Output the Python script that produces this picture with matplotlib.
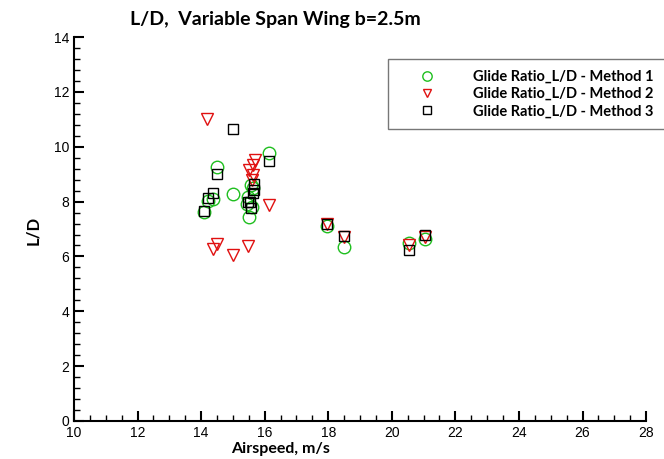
import matplotlib
matplotlib.use("Agg")
import matplotlib.pyplot as plt
from matplotlib.ticker import MultipleLocator

# Method 1 - green circles
m1_speed = [14.49, 14.38, 14.23, 15.01, 14.10, 16.15, 15.64, 15.57, 15.45, 15.59, 15.46, 15.50,
            17.95, 18.50, 20.54, 21.06]
m1_ld = [9.27, 8.08, 8.04, 8.28, 7.63, 9.79, 8.48, 8.60, 7.93, 7.81, 8.18, 7.45,
         7.10, 6.35, 6.50, 6.62]

# Method 2 - red triangles
m2_speed = [14.20, 14.49, 14.36, 15.01, 15.46, 15.71, 15.62, 15.52, 15.62, 15.60, 16.15,
            17.95, 18.50, 20.54, 21.06]
m2_ld = [11.00, 6.45, 6.29, 6.05, 6.38, 9.51, 9.33, 9.17, 8.97, 8.79, 7.87,
         7.20, 6.72, 6.40, 6.70]

# Method 3 - black squares
m3_speed = [15.01, 14.49, 14.36, 14.23, 14.10, 16.15, 15.67, 15.67, 15.62, 15.46, 15.54, 15.57,
            17.95, 18.50, 20.54, 21.06]
m3_ld = [10.64, 8.99, 8.32, 8.12, 7.66, 9.48, 8.66, 8.44, 8.30, 8.00, 7.97, 7.75,
         7.20, 6.74, 6.23, 6.78]

bold_font = 'Lato'

fig = plt.figure(figsize=(6.64, 4.59), dpi=100)
ax = fig.add_axes([0.1114, 0.0828, 0.8616, 0.8364])

ax.plot(m1_speed, m1_ld, 'o', mfc='none', mec='#1fbf1f', ms=9, mew=1.0,
        label='Glide Ratio_L/D - Method 1')
ax.plot(m2_speed, m2_ld, 'v', mfc='none', mec='#e01010', ms=8.5, mew=1.0,
        label='Glide Ratio_L/D - Method 2')
ax.plot(m3_speed, m3_ld, 's', mfc='none', mec='black', ms=7, mew=1.0,
        label='Glide Ratio_L/D - Method 3')

ax.set_xlim(10, 28)
ax.set_ylim(0, 14)
ax.xaxis.set_major_locator(MultipleLocator(2))
ax.xaxis.set_minor_locator(MultipleLocator(0.5))
ax.yaxis.set_major_locator(MultipleLocator(2))
ax.yaxis.set_minor_locator(MultipleLocator(0.4))
ax.tick_params(which='major', direction='in', length=7, width=1.5, labelsize=10)
ax.tick_params(which='minor', direction='in', length=4, width=1.0)
for lab in ax.get_xticklabels() + ax.get_yticklabels():
    lab.set_family('Liberation Sans')

ax.spines['top'].set_visible(False)
ax.spines['right'].set_visible(False)
ax.spines['left'].set_linewidth(1.5)
ax.spines['bottom'].set_linewidth(1.5)

fig.text(275 / 664, 1 - 20 / 459, 'L/D,  Variable Span Wing b=2.5m', ha='center', va='center',
         fontsize=14, fontweight='bold', family=bold_font)
fig.text(281 / 664, 1 - 449 / 459, 'Airspeed, m/s', ha='center', va='center',
         fontsize=11.5, fontweight='bold', family=bold_font)
fig.text(33 / 664, 1 - 230 / 459, 'L/D', ha='center', va='center', rotation=90,
         fontsize=12, fontweight='bold', family=bold_font)

leg = ax.legend(loc='upper left', bbox_to_anchor=(388 / 664, 1 - 59 / 459),
                bbox_transform=fig.transFigure, fancybox=False, edgecolor='#555555',
                prop={'weight': 'bold', 'size': 10.5, 'family': bold_font},
                borderaxespad=0, handletextpad=1.2, borderpad=0.75, labelspacing=0.22,
                handlelength=3.9, markerscale=0.75)
leg.get_frame().set_linewidth(1.0)

fig.savefig('out.png', dpi=100)
